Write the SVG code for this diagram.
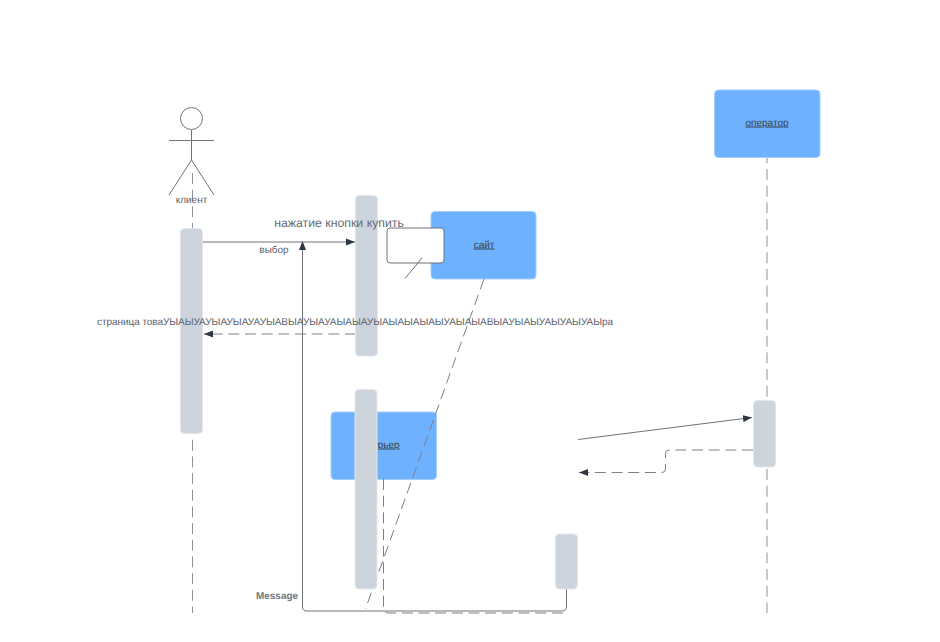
<svg xmlns="http://www.w3.org/2000/svg" width="940" height="642" viewBox="0 0 940 642">
<style>
text{font-family:"Liberation Sans",Arial,sans-serif;fill:#3a414a;text-anchor:middle;text-rendering:geometricPrecision}
.lbl{font-size:10px;fill:#5b626c}
.u{font-size:10px;text-decoration:underline;fill:#3a414a}
.box{fill:#6db1ff;stroke:#a3ceff;stroke-width:1}
.act{fill:#ced4db;stroke:#e3e7eb;stroke-width:1}
.ln{fill:none;stroke:#6f737a;stroke-width:1}
.dash{fill:none;stroke:#7c8086;stroke-width:1;stroke-dasharray:11 5.67}
.life{fill:none;stroke:#8f9296;stroke-width:1;stroke-dasharray:11 5.67}
</style>
<defs>
<marker id="arr" markerUnits="userSpaceOnUse" markerWidth="10" markerHeight="8" refX="9" refY="4" orient="auto"><path d="M0 0.500L9 4L0 7.500Z" fill="#2f3742"/></marker>
</defs>
<g id="lifelines">
<path class="life" d="M192.500 173V613"/>
<path class="life" d="M767 152.300V613"/>
</g>
<g id="klient">
<circle class="ln" cx="191.500" cy="118.500" r="11"/>
<path class="ln" d="M191.500 130V160M169 140.500H214M191.500 160L169 195M191.500 160L214 195"/>
<text class="lbl" x="191.500" y="203">клиент</text>
</g>
<g id="sait">
<rect class="box" x="431" y="211.500" width="105" height="67.500" rx="4"/>
<text class="u" x="484" y="247.500">сайт</text>
</g>
<g id="operator">
<rect class="box" x="714.500" y="90" width="105.500" height="67.500" rx="4"/>
<text class="u" x="767" y="125.500">оператор</text>
</g>
<g id="kurer">
<rect class="box" x="331" y="412" width="105.500" height="67.500" rx="4"/>
<text class="u" x="384" y="447.500">курьер</text>
</g>
<g id="connectors">
<path class="dash" d="M484 279L365.500 609"/>
<path class="dash" d="M383.500 479V607.500Q383.500 613 389 613H567"/>
<path class="ln" d="M566.500 589V607Q566.500 611 562 611H307Q302.500 611 302.500 607V241" marker-end="url(#arr)"/>
<path class="ln" d="M203 242H355" marker-end="url(#arr)"/>
<path class="dash" d="M356 334H204" marker-end="url(#arr)"/>
<path class="ln" d="M578 439.500L752 417.500" marker-end="url(#arr)"/>
<path class="dash" d="M753 450H669Q665.500 450 665.500 453.500V469Q665.500 472.500 662 472.500H579" marker-end="url(#arr)"/>
</g>
<g id="act-1"><rect class="act" x="180.500" y="228.500" width="22" height="205" rx="4"/></g>
<g id="act-2"><rect class="act" x="355.500" y="195.500" width="22" height="160.500" rx="4"/></g>
<g id="act-3"><rect class="act" x="355" y="389.500" width="22" height="199.500" rx="4"/></g>
<g id="act-4"><rect class="act" x="555.500" y="534" width="22" height="55" rx="4"/></g>
<g id="act-5"><rect class="act" x="753.500" y="400.500" width="22" height="66.500" rx="4"/></g>
<g id="note">
<rect x="387" y="228" width="57" height="35" rx="3" fill="#fff" stroke="#6f737a"/>
<path class="ln" d="M405 278.500L422 258"/>
</g>
<g id="labels">
<text class="lbl" x="274" y="253">выбор</text>
<text x="339" y="226.500" style="font-size:12.300px;fill:#666c75">нажатие кнопки купить</text>
<text class="lbl" x="355" y="325" textLength="516">страница товаУЫАЫУАУЫАУЫАУАУЫАВЫАУЫАУАЫАЫАУЫАЫАЫАЫАЫУАЫАЫАВЫАУЫАЫУАЫУАЫУАЫра</text>
<text x="277" y="599" style="font-size:10px;font-weight:bold;fill:#72777d">Message</text>
</g>
</svg>
